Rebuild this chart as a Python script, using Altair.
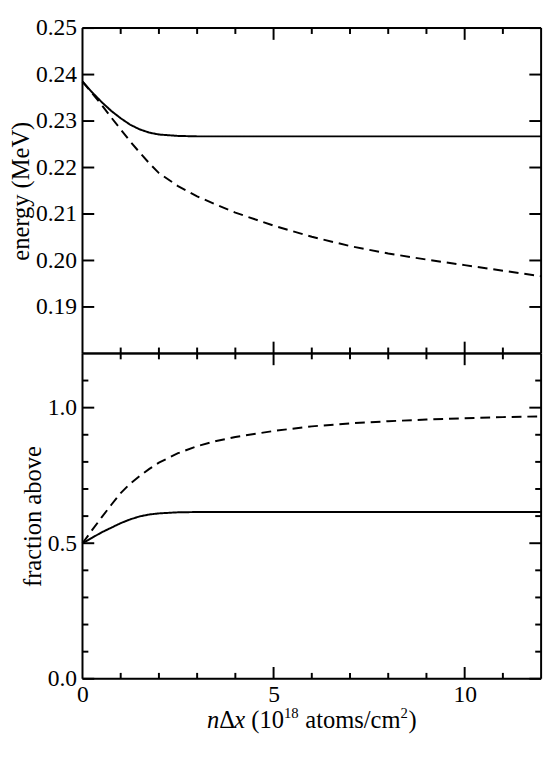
import altair as alt
import pandas as pd

# ---- data ----
x_vals = [0, 0.25, 0.5, 0.75, 1.0, 1.25, 1.5, 1.75, 2.0, 2.5, 3.0, 3.5, 4, 5, 6, 7, 8, 9, 10, 11, 12]

energy_solid = [0.2385, 0.2362, 0.2341, 0.2322, 0.2306, 0.2292, 0.2282, 0.2275, 0.2271, 0.2268, 0.2267,
                0.2267, 0.2267, 0.2267, 0.2267, 0.2267, 0.2267, 0.2267, 0.2267, 0.2267, 0.2267]
energy_dashed = [0.2385, 0.2360, 0.2335, 0.2308, 0.2282, 0.2256, 0.2232, 0.2209, 0.2188, 0.2160, 0.2138,
                 0.2120, 0.2103, 0.2075, 0.2051, 0.2031, 0.2015, 0.2002, 0.1990, 0.1978, 0.1966]

frac_solid = [0.500, 0.520, 0.540, 0.557, 0.574, 0.588, 0.599, 0.606, 0.610, 0.614, 0.615,
              0.615, 0.615, 0.615, 0.615, 0.615, 0.615, 0.615, 0.615, 0.615, 0.615]
frac_dashed = [0.500, 0.548, 0.595, 0.641, 0.685, 0.720, 0.748, 0.774, 0.797, 0.832, 0.858,
               0.877, 0.892, 0.914, 0.931, 0.942, 0.950, 0.956, 0.961, 0.965, 0.968]

x_range = [0, 12]
energy_range = [0.18, 0.25]
frac_range = [0.0, 1.2]
x_major = [5, 10]
x_minor = [1, 2, 3, 4, 6, 7, 8, 9, 11]
x_labels = [0, 5, 10]
energy_ticks = [0.19, 0.20, 0.21, 0.22, 0.23, 0.24, 0.25]
frac_major = [0.0, 0.5, 1.0]
frac_minor = [0.1, 0.2, 0.3, 0.4, 0.6, 0.7, 0.8, 0.9, 1.1]

# x-axis title pieces: (text, style) ; style: i = italic, r = roman, s = superscript
title_pieces = [("n", "i"), ("Δ", "r"), ("x", "i"), (" ", "sp"), ("(10", "r"), ("18", "s"),
                (" ", "sp"), ("atoms/cm", "r"), ("2", "s"), (")", "r")]

# ---- tables ----
df_e = pd.DataFrame({
    "x": x_vals * 2,
    "y": energy_solid + energy_dashed,
    "kind": ["solid"] * len(x_vals) + ["dashed"] * len(x_vals),
})
df_f = pd.DataFrame({
    "x": x_vals * 2,
    "y": frac_solid + frac_dashed,
    "kind": ["solid"] * len(x_vals) + ["dashed"] * len(x_vals),
})

W = 468
H = 332
TH = 55       # height of the strip that holds the x title
FONT = "Liberation Serif"
MAJ = 12
MIN = 6
TFS = 25      # title font size
SFS = 15      # superscript font size

# Times / Liberation Serif advance widths (em) used to lay out the rich x title
EM = {"n": 0.5, "x": 0.444, "Δ": 0.612, " ": 0.25, "(": 0.333, ")": 0.333, "0": 0.5, "1": 0.5,
      "2": 0.5, "8": 0.5, "a": 0.444, "t": 0.278, "o": 0.5, "m": 0.778, "s": 0.389, "/": 0.278,
      "c": 0.444}

xscale = alt.Scale(domain=x_range, nice=False, zero=False)
ys_top = alt.Scale(domain=energy_range, nice=False, zero=False)
ys_bot = alt.Scale(domain=frac_range, nice=False, zero=False)

dash_scale = alt.Scale(domain=["solid", "dashed"], range=[[1, 0], [10, 6]])


def y_axis(title, values, fmt):
    return alt.Axis(title=title, values=values, format=fmt, ticks=False, tickSize=0,
                    domain=False, grid=False, labelFont=FONT, labelFontSize=24,
                    labelColor="black", labelPadding=6, titleFont=FONT, titleFontSize=25,
                    titleFontWeight="normal", titleColor="black", titlePadding=2)


x_axis_bottom = alt.Axis(title=None, values=x_labels, format="d", ticks=False,
                         tickSize=0, domain=False, grid=False, labelFont=FONT, labelFontSize=24,
                         labelColor="black", labelPadding=4, labelFlush=False, labelOverlap=False)


def rule_y(vals, yscale, yax, x0, x1):
    d = pd.DataFrame({"v": vals})
    return alt.Chart(d).mark_rule(color="black", strokeWidth=2).encode(
        y=alt.Y("v:Q", scale=yscale, axis=yax), x=alt.value(x0), x2=alt.value(x1))


def rule_x(vals, xax, y0, y1):
    d = pd.DataFrame({"v": vals})
    return alt.Chart(d).mark_rule(color="black", strokeWidth=2).encode(
        x=alt.X("v:Q", scale=xscale, axis=xax), y=alt.value(y0), y2=alt.value(y1))


def lines(df, yscale, yax, xax):
    return alt.Chart(df).mark_line(color="black", strokeWidth=2).encode(
        x=alt.X("x:Q", scale=xscale, axis=xax),
        y=alt.Y("y:Q", scale=yscale, axis=yax),
        strokeDash=alt.StrokeDash("kind:N", scale=dash_scale, legend=None),
    )


# top panel
ax_top = y_axis("energy (MeV)", energy_ticks, ".2f")
top = alt.layer(
    lines(df_e, ys_top, ax_top, None),
    rule_y(energy_range, ys_top, ax_top, 0, W),          # frame top / bottom
    rule_x(x_range, None, 0, H),                          # frame left / right
    rule_y(energy_ticks, ys_top, ax_top, 0, MAJ),
    rule_y(energy_ticks, ys_top, ax_top, W, W - MAJ),
    rule_x(x_major, None, 0, MAJ),
    rule_x(x_major, None, H, H - MAJ),
    rule_x(x_minor, None, 0, MIN),
    rule_x(x_minor, None, H, H - MIN),
).properties(width=W, height=H)

# bottom panel
ax_bot = y_axis("fraction above", frac_major, ".1f")
bottom = alt.layer(
    lines(df_f, ys_bot, ax_bot, x_axis_bottom),
    rule_y(frac_range, ys_bot, ax_bot, 0, W),
    rule_x(x_range, x_axis_bottom, 0, H),
    rule_y(frac_major, ys_bot, ax_bot, 0, MAJ),
    rule_y(frac_major, ys_bot, ax_bot, W, W - MAJ),
    rule_y(frac_minor, ys_bot, ax_bot, 0, MIN),
    rule_y(frac_minor, ys_bot, ax_bot, W, W - MIN),
    rule_x(x_major, x_axis_bottom, 0, MAJ),
    rule_x(x_major, x_axis_bottom, H, H - MAJ),
    rule_x(x_minor, x_axis_bottom, 0, MIN),
    rule_x(x_minor, x_axis_bottom, H, H - MIN),
).properties(width=W, height=H)

# ---- rich x-axis title laid out from font metrics, in its own strip ----
rows = []
pos = 0.0
for txt, sty in title_pieces:
    fs = SFS if sty == "s" else TFS
    w = sum(EM.get(ch, 0.5) for ch in txt) * fs
    if sty != "sp":
        rows.append({"t": txt, "sty": sty, "px": pos})
    pos += w + (0.5 if sty == "s" else 0)
total_w = pos
base_y = 50
for r in rows:
    r["px"] = r["px"] + W / 2 - total_w / 2
    r["py"] = base_y - (10 if r["sty"] == "s" else 0)
df_title = pd.DataFrame(rows)


def title_layer(sty, fs, style):
    return alt.Chart(df_title).transform_filter(alt.datum.sty == sty).mark_text(
        font=FONT, fontSize=fs, fontStyle=style, align="left", baseline="alphabetic",
        color="black").encode(
        x=alt.X("px:Q", scale=None, axis=None),
        y=alt.Y("py:Q", scale=None, axis=None),
        text="t:N")


title_strip = alt.layer(
    title_layer("i", TFS, "italic"),
    title_layer("r", TFS, "normal"),
    title_layer("s", SFS, "normal"),
).properties(width=W, height=TH, view=alt.ViewBackground(stroke="transparent"))

chart = alt.vconcat(top, bottom, title_strip, spacing=0, bounds="flush").properties(
    padding={"left": 0, "top": 0, "right": 0, "bottom": 0}
)

chart.save("out.html", embed_options={"renderer": "svg", "actions": False})
